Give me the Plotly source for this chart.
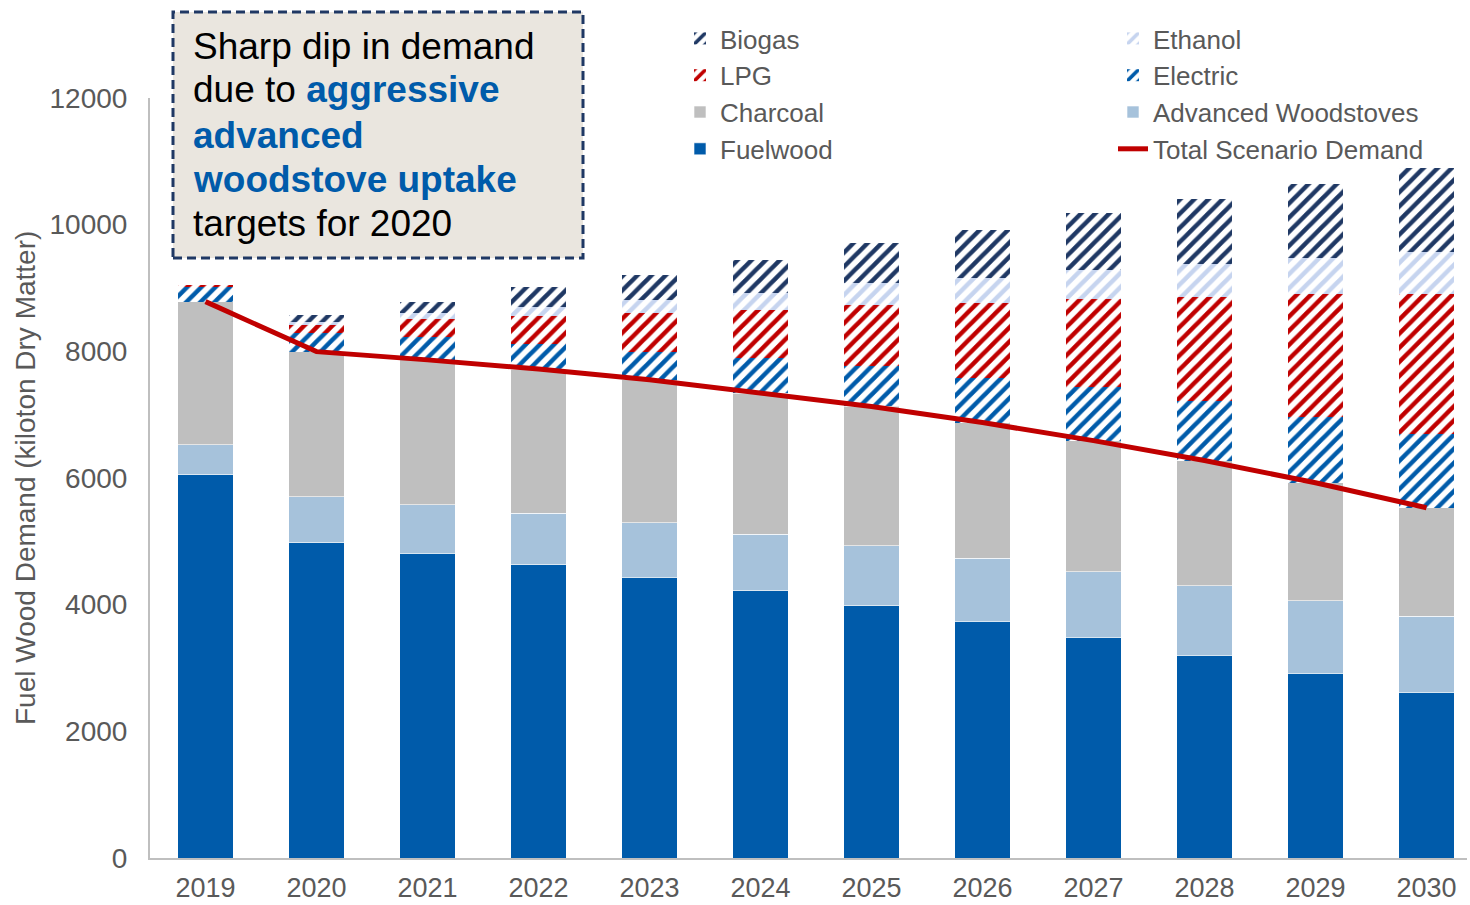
import plotly.graph_objects as go

# ---- data (kiloton dry matter) ----
years = ["2019", "2020", "2021", "2022", "2023", "2024",
         "2025", "2026", "2027", "2028", "2029", "2030"]
fuelwood = [6050, 4980, 4810, 4630, 4430, 4220, 3985, 3740, 3485, 3205, 2920, 2620]
adv_woodstoves = [475, 725, 765, 815, 860, 895, 945, 990, 1035, 1095, 1140, 1195]
charcoal = [2260, 2290, 2290, 2275, 2260, 2225, 2200, 2145, 2070, 1975, 1865, 1715]
electric = [235, 295, 368, 395, 447, 553, 632, 711, 842, 942, 1045, 1168]
lpg = [30, 126, 275, 447, 605, 763, 974, 1184, 1389, 1637, 1929, 2203]
ethanol = [0, 50, 95, 132, 211, 263, 342, 395, 463, 526, 572, 668]
biogas = [0, 105, 183, 316, 395, 526, 632, 753, 895, 1021, 1179, 1322]
total_demand = [8785, 7995, 7865, 7720, 7550, 7340, 7130, 6875, 6590, 6275, 5925, 5530]
y_ticks = [0, 2000, 4000, 6000, 8000, 10000, 12000]
y_tick_labels = ["0", "2000", "4000", "6000", "8000", "10000", "12000"]

FONT = "Liberation Sans, Arial, sans-serif"
GREY_TEXT = "#595959"
AXIS_GREY = "#BFBFBF"
BLUE = "#005BAA"
NAVY = "#1F3864"
RED = "#C00000"

# plot-area geometry (pixels) used for placing annotations and legends
W, H = 1470, 905
L, R, T, B = 150, 3, 98, 47
PW, PH = W - L - R, H - T - B


def px_x(px):
    return (px - L) / PW


def px_y(py):
    return (H - B - py) / PH


BAR_W = 0.5


def solid_bar(name, values, color, legend, rank):
    return go.Bar(
        x=years, y=values, name=name, width=BAR_W,
        marker=dict(color=color, line=dict(color="rgba(255,255,255,0.6)", width=1)),
        legend=legend, legendrank=rank, hoverinfo="x+y+name",
    )


def hatched_bar(name, values, color, legend, rank):
    return go.Bar(
        x=years, y=values, name=name, width=BAR_W,
        marker=dict(
            color=color, line=dict(width=0),
            pattern=dict(shape="/", fgcolor=color, bgcolor="white",
                         size=10, solidity=0.45, fillmode="replace"),
        ),
        legend=legend, legendrank=rank, hoverinfo="x+y+name",
    )


fig = go.Figure()
# stacked from bottom to top
fig.add_trace(solid_bar("Fuelwood", fuelwood, BLUE, "legend", 4))
fig.add_trace(solid_bar("Advanced Woodstoves", adv_woodstoves, "#A6C2DB", "legend2", 3))
fig.add_trace(solid_bar("Charcoal", charcoal, "#BFBFBF", "legend", 3))
fig.add_trace(hatched_bar("Electric", electric, BLUE, "legend2", 2))
fig.add_trace(hatched_bar("LPG", lpg, RED, "legend", 2))
fig.add_trace(hatched_bar("Ethanol", ethanol, "#C6D4EF", "legend2", 1))
fig.add_trace(hatched_bar("Biogas", biogas, NAVY, "legend", 1))
fig.add_trace(go.Scatter(
    x=years, y=total_demand, name="Total Scenario Demand", mode="lines",
    line=dict(color=RED, width=5), legend="legend2", legendrank=4,
))

# callout box
fig.add_shape(
    type="rect", xref="paper", yref="paper",
    x0=px_x(173), x1=px_x(583), y0=px_y(258), y1=px_y(12),
    fillcolor="#EAE6DF", line=dict(color=NAVY, width=3, dash="9px,5px"),
    layer="above",
)

blue_b = "<b><span style='color:%s'>%s</span></b>"
callout_lines = [
    ("Sharp dip in demand", 46),
    ("due to " + blue_b % (BLUE, "aggressive"), 90),
    (blue_b % (BLUE, "advanced"), 135),
    (blue_b % (BLUE, "woodstove uptake"), 179),
    ("targets for 2020", 224),
]
for text, cy in callout_lines:
    fig.add_annotation(
        xref="paper", yref="paper", x=px_x(191), y=px_y(cy),
        xanchor="left", yanchor="middle", text=text, showarrow=False,
        font=dict(family=FONT, size=37, color="#000000"), align="left",
    )

# arrow from the callout down to the 2020 bar
fig.add_annotation(
    x="2020", y=8684, xref="x", yref="y", text="", showarrow=True,
    ax=0, ay=-50, arrowhead=2, arrowsize=1.4, arrowwidth=2.2, arrowcolor=NAVY,
)

# y-axis title
fig.add_annotation(
    xref="paper", yref="paper", x=px_x(25), y=0.5, xanchor="center", yanchor="middle",
    text="Fuel Wood Demand (kiloton Dry Matter)", textangle=-90, showarrow=False,
    font=dict(family=FONT, size=28, color=GREY_TEXT),
)

legend_common = dict(
    xanchor="left", yanchor="top", bgcolor="rgba(0,0,0,0)",
    font=dict(family=FONT, size=26, color=GREY_TEXT),
    traceorder="normal", orientation="v", itemclick=False, itemdoubleclick=False,
)

fig.update_layout(
    width=W, height=H,
    margin=dict(l=L, r=R, t=T, b=B, autoexpand=False),
    paper_bgcolor="white", plot_bgcolor="white",
    barmode="stack", bargap=0.5,
    font=dict(family=FONT, size=28, color=GREY_TEXT),
    showlegend=True,
    legend=dict(x=px_x(680), y=px_y(15), **legend_common),
    legend2=dict(x=px_x(1113), y=px_y(15), **legend_common),
    xaxis=dict(
        type="category", range=[-0.5, 11.365], showline=True, linecolor=AXIS_GREY,
        linewidth=2, showgrid=False, zeroline=False, ticks="",
        tickfont=dict(family=FONT, size=27, color=GREY_TEXT),
        ticklabelstandoff=5, automargin=False, fixedrange=True,
    ),
    yaxis=dict(
        range=[0, 12000], tickvals=y_ticks, ticktext=y_tick_labels, showline=True,
        linecolor=AXIS_GREY, linewidth=2, showgrid=False, zeroline=False, ticks="",
        tickfont=dict(family=FONT, size=28, color=GREY_TEXT),
        ticklabelstandoff=15, automargin=False, fixedrange=True,
    ),
)

fig.write_html("out.html")
